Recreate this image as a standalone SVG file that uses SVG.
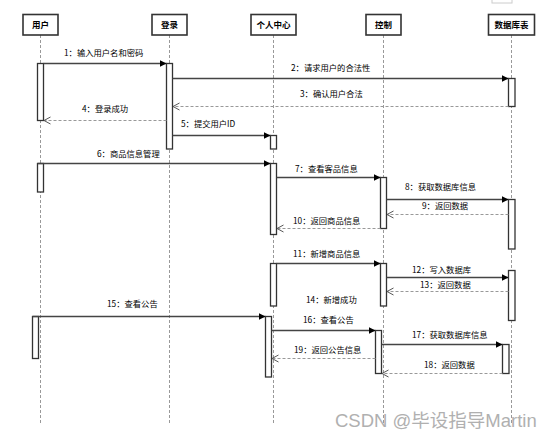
<svg xmlns="http://www.w3.org/2000/svg" width="556" height="440" viewBox="0 0 556 440">
<style>
.hdr{fill:#fff;stroke:#333;stroke-width:1.6}
.ht{font-family:"Noto Sans CJK SC","Liberation Sans",sans-serif;font-size:8.5px;font-weight:bold;fill:#000;text-anchor:middle}
.life{stroke:#999;stroke-width:1;stroke-dasharray:3,2;fill:none}
.act{fill:#fff;stroke:#333;stroke-width:1.3}
.msg{stroke:#444;stroke-width:1.3;fill:none}
.ret{stroke:#999;stroke-width:1;stroke-dasharray:3,2;fill:none}
.lbl{font-family:"Noto Sans CJK SC","Liberation Sans",sans-serif;font-size:8.3px;fill:#000}
.wm{font-family:"Liberation Sans","Noto Sans CJK SC",sans-serif;font-size:18.5px;fill:#b0b0b0}
</style>
<defs>
<marker id="fill" markerWidth="8" markerHeight="8" refX="7" refY="4" orient="auto" markerUnits="userSpaceOnUse">
<path d="M0,0.5 L7,4 L0,7.5 Z" fill="#000"/>
</marker>
<marker id="open" markerWidth="9" markerHeight="9" refX="7" refY="4" orient="auto" markerUnits="userSpaceOnUse">
<path d="M0.5,0.5 L7,4 L0.5,7.5" fill="none" stroke="#555" stroke-width="1"/>
</marker>
</defs>
<rect width="556" height="440" fill="#fff"/>
<rect x="492" y="-10" width="20" height="13" fill="none" stroke="#ccc" stroke-width="1"/>

<g id="lifelines">
<line class="life" x1="40.5" y1="35" x2="40.5" y2="423"/>
<line class="life" x1="169.5" y1="35" x2="169.5" y2="423"/>
<line class="life" x1="273.5" y1="35" x2="273.5" y2="423"/>
<line class="life" x1="383.5" y1="35" x2="383.5" y2="423"/>
<line class="life" x1="511.5" y1="35" x2="511.5" y2="423"/>
</g>

<g id="user">
<rect class="hdr" x="23" y="14.5" width="35" height="20.5"/>
<text class="ht" x="40.5" y="28">用户</text>
<rect class="act" x="37.5" y="63.5" width="6" height="57"/>
<rect class="act" x="37.5" y="163.5" width="6" height="28.5"/>
<rect class="act" x="32.5" y="316.5" width="6" height="42"/>
</g>
<g id="login">
<rect class="hdr" x="152" y="14.5" width="35" height="20.5"/>
<text class="ht" x="169.5" y="28">登录</text>
<rect class="act" x="166.5" y="63.5" width="6" height="85.5"/>
</g>
<g id="center">
<rect class="hdr" x="251" y="14.5" width="45" height="20.5"/>
<text class="ht" x="273.5" y="28">个人中心</text>
<rect class="act" x="270.5" y="135.5" width="6" height="13.5"/>
<rect class="act" x="270.5" y="163.5" width="6" height="71"/>
<rect class="act" x="270.5" y="263.5" width="6" height="42.5"/>
<rect class="act" x="265.5" y="316.5" width="6" height="60.5"/>
</g>
<g id="control">
<rect class="hdr" x="366" y="14.5" width="35" height="20.5"/>
<text class="ht" x="383.5" y="28">控制</text>
<rect class="act" x="380.5" y="177.5" width="6" height="51"/>
<rect class="act" x="380.5" y="263.5" width="6" height="42.5"/>
<rect class="act" x="375.5" y="330.5" width="6" height="43"/>
</g>
<g id="db">
<rect class="hdr" x="488.5" y="14.5" width="46" height="20.5"/>
<text class="ht" x="511.5" y="28">数据库表</text>
<rect class="act" x="508.5" y="78.5" width="6.5" height="28"/>
<rect class="act" x="508.5" y="199.5" width="6.5" height="49.5"/>
<rect class="act" x="508.5" y="270.5" width="6.5" height="50"/>
<rect class="act" x="502.5" y="344.5" width="6.5" height="29"/>
</g>

<g id="connectors">
<line class="msg" x1="43.5" y1="63.5" x2="166.5" y2="63.5" marker-end="url(#fill)"/>
<line class="msg" x1="172.5" y1="78.5" x2="508.5" y2="78.5" marker-end="url(#fill)"/>
<line class="ret" x1="508.5" y1="106.5" x2="173" y2="106.5" marker-end="url(#open)"/>
<line class="ret" x1="166.5" y1="120.5" x2="44" y2="120.5" marker-end="url(#open)"/>
<line class="msg" x1="172.5" y1="135.5" x2="270.5" y2="135.5" marker-end="url(#fill)"/>
<line class="msg" x1="37.5" y1="163.5" x2="270.5" y2="163.5" marker-end="url(#fill)"/>
<line class="msg" x1="276.5" y1="177.5" x2="380.5" y2="177.5" marker-end="url(#fill)"/>
<line class="msg" x1="386.5" y1="199.5" x2="508.5" y2="199.5" marker-end="url(#fill)"/>
<line class="ret" x1="508.5" y1="214.5" x2="387" y2="214.5" marker-end="url(#open)"/>
<line class="ret" x1="380.5" y1="228.5" x2="277" y2="228.5" marker-end="url(#open)"/>
<line class="msg" x1="276.5" y1="263.5" x2="380.5" y2="263.5" marker-end="url(#fill)"/>
<line class="msg" x1="386.5" y1="277.5" x2="508.5" y2="277.5" marker-end="url(#fill)"/>
<line class="ret" x1="508.5" y1="291.5" x2="387" y2="291.5" marker-end="url(#open)"/>
<line class="msg" x1="32.5" y1="316.5" x2="265.5" y2="316.5" marker-end="url(#fill)"/>
<line class="msg" x1="271.5" y1="330.5" x2="375.5" y2="330.5" marker-end="url(#fill)"/>
<line class="msg" x1="381.5" y1="344.5" x2="502.5" y2="344.5" marker-end="url(#fill)"/>
<line class="ret" x1="375.5" y1="358.5" x2="272" y2="358.5" marker-end="url(#open)"/>
<line class="ret" x1="502.5" y1="373.5" x2="382" y2="373.5" marker-end="url(#open)"/>
</g>

<g id="labels">
<text class="lbl" x="64" y="56">1：输入用户名和密码</text>
<text class="lbl" x="291" y="71">2：请求用户的合法性</text>
<text class="lbl" x="300" y="97">3：确认用户合法</text>
<text class="lbl" x="82" y="112">4：登录成功</text>
<text class="lbl" x="181" y="127">5：提交用户ID</text>
<text class="lbl" x="97" y="157">6：商品信息管理</text>
<text class="lbl" x="295" y="172">7：查看客品信息</text>
<text class="lbl" x="405" y="190">8：获取数据库信息</text>
<text class="lbl" x="422" y="209">9：返回数据</text>
<text class="lbl" x="293" y="224">10：返回商品信息</text>
<text class="lbl" x="293" y="257">11：新增商品信息</text>
<text class="lbl" x="412" y="273">12：写入数据库</text>
<text class="lbl" x="420" y="288">13：返回数据</text>
<text class="lbl" x="306" y="303">14：新增成功</text>
<text class="lbl" x="107" y="307">15：查看公告</text>
<text class="lbl" x="303" y="323">16：查看公告</text>
<text class="lbl" x="412" y="338">17：获取数据库信息</text>
<text class="lbl" x="294" y="353">19：返回公告信息</text>
<text class="lbl" x="424" y="368">18：返回数据</text>
</g>
<text class="wm" x="335" y="427">CSDN @毕设指导Martin</text>
</svg>
